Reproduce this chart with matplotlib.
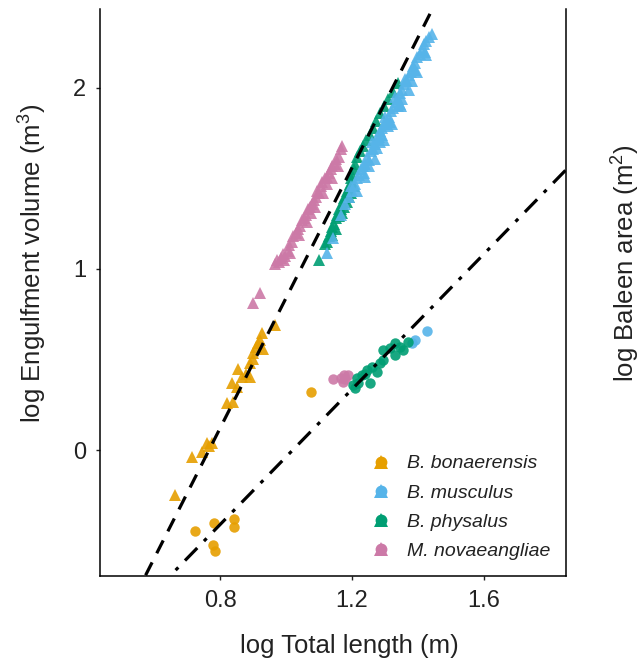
import numpy as np
import matplotlib.pyplot as plt
from matplotlib.lines import Line2D
from matplotlib.legend_handler import HandlerTuple

plt.rcParams["font.family"] = ["Liberation Sans", "DejaVu Sans"]
plt.rcParams["mathtext.fontset"] = "custom"
plt.rcParams["mathtext.rm"] = "Liberation Sans"

species = ["B. bonaerensis", "B. musculus", "B. physalus", "M. novaeangliae"]
colors = ["#E69F00", "#56B4E9", "#009E73", "#CC79A7"]

# engulfment volume (log m^3) vs log total length
bon_len = [0.664, 0.714, 0.745, 0.760, 0.775, 0.768, 0.820, 0.840, 0.835, 0.855,
           0.850, 0.866, 0.880, 0.891, 0.891, 0.901, 0.910, 0.921, 0.926, 0.930,
           0.900, 0.915, 0.967]
bon_vol = [-0.249, -0.037, -0.009, 0.039, 0.040, 0.020, 0.260, 0.267, 0.370, 0.450,
           0.350, 0.405, 0.420, 0.405, 0.480, 0.535, 0.570, 0.610, 0.646, 0.560,
           0.500, 0.590, 0.690]

mus_len = [1.123, 1.143, 1.165, 1.180, 1.190, 1.200, 1.196, 1.210, 1.215, 1.222,
           1.228, 1.232, 1.240, 1.245, 1.250, 1.256, 1.262, 1.268, 1.272, 1.280,
           1.285, 1.292, 1.298, 1.305, 1.312, 1.318, 1.325, 1.332, 1.338, 1.345,
           1.352, 1.358, 1.365, 1.372, 1.378, 1.385, 1.392, 1.398, 1.405, 1.412,
           1.418, 1.425, 1.432, 1.441, 1.235, 1.275, 1.310, 1.350, 1.390, 1.420,
           1.300, 1.260, 1.360, 1.330, 1.250, 1.290, 1.340, 1.380, 1.215, 1.240,
           1.268, 1.296, 1.322, 1.348, 1.372, 1.398, 1.425, 1.285, 1.315, 1.345]
mus_vol = [1.09, 1.17, 1.30, 1.36, 1.40, 1.43, 1.46, 1.47, 1.50, 1.52,
           1.55, 1.57, 1.58, 1.62, 1.60, 1.65, 1.66, 1.69, 1.72, 1.73,
           1.76, 1.78, 1.80, 1.82, 1.84, 1.87, 1.89, 1.92, 1.94, 1.97,
           1.99, 2.02, 2.04, 2.07, 2.09, 2.12, 2.14, 2.17, 2.19, 2.21,
           2.24, 2.26, 2.28, 2.30, 1.53, 1.67, 1.79, 1.94, 2.10, 2.20,
           1.84, 1.70, 2.05, 1.95, 1.57, 1.74, 1.90, 2.04, 1.43, 1.51,
           1.61, 1.71, 1.80, 1.90, 1.99, 2.09, 2.18, 1.70, 1.81, 1.91]

phy_len = [1.100, 1.118, 1.125, 1.130, 1.135, 1.140, 1.145, 1.150, 1.155, 1.160,
           1.165, 1.170, 1.175, 1.180, 1.185, 1.190, 1.195, 1.198, 1.200, 1.205,
           1.210, 1.216, 1.224, 1.233, 1.243, 1.253, 1.263, 1.273, 1.286, 1.298,
           1.310, 1.323, 1.338, 1.160, 1.175, 1.190, 1.150, 1.205, 1.170, 1.185,
           1.198, 1.140]
phy_vol = [1.05, 1.14, 1.15, 1.18, 1.21, 1.23, 1.25, 1.28, 1.30, 1.33,
           1.33, 1.36, 1.39, 1.40, 1.43, 1.45, 1.47, 1.50, 1.52, 1.55,
           1.58, 1.62, 1.65, 1.68, 1.71, 1.74, 1.78, 1.82, 1.86, 1.90,
           1.94, 1.98, 2.03, 1.29, 1.34, 1.40, 1.22, 1.46, 1.31, 1.37,
           1.42, 1.19]

nov_len = [0.900, 0.921, 0.965, 0.972, 0.980, 0.985, 0.990, 0.998, 1.005, 1.010,
           1.018, 1.022, 1.030, 1.035, 1.042, 1.048, 1.055, 1.060, 1.066, 1.072,
           1.078, 1.085, 1.090, 1.095, 1.100, 1.105, 1.110, 1.118, 1.124, 1.130,
           1.136, 1.140, 1.148, 1.152, 1.160, 1.165, 1.170, 1.012, 1.040, 1.062,
           1.088, 1.112, 1.138, 1.158, 0.995, 1.075, 1.125]
nov_vol = [0.81, 0.87, 1.03, 1.05, 1.04, 1.06, 1.08, 1.07, 1.10, 1.13,
           1.15, 1.18, 1.20, 1.22, 1.24, 1.27, 1.28, 1.30, 1.33, 1.34,
           1.36, 1.38, 1.40, 1.43, 1.42, 1.46, 1.48, 1.50, 1.51, 1.53,
           1.55, 1.57, 1.58, 1.61, 1.62, 1.66, 1.68, 1.09, 1.19, 1.26,
           1.34, 1.42, 1.50, 1.57, 1.05, 1.31, 1.47]

# baleen area (log m^2) vs log total length
bon_len_b = [0.724, 0.782, 0.778, 0.785, 0.842, 0.842, 1.076]
bon_area = [-0.448, -0.404, -0.525, -0.556, -0.380, -0.424, 0.319]

mus_len_b = [1.391, 1.426, 1.380]
mus_area = [0.608, 0.660, 0.590]

phy_len_b = [1.204, 1.218, 1.229, 1.244, 1.260, 1.275, 1.254, 1.295, 1.295, 1.315,
             1.330, 1.330, 1.355, 1.370, 1.215, 1.238, 1.285, 1.345, 1.210]
phy_area = [0.359, 0.370, 0.414, 0.442, 0.460, 0.433, 0.370, 0.497, 0.552, 0.562,
            0.525, 0.590, 0.552, 0.598, 0.395, 0.420, 0.480, 0.570, 0.340]

nov_len_b = [1.143, 1.174, 1.188, 1.173, 1.180, 1.165]
nov_area = [0.392, 0.414, 0.414, 0.377, 0.390, 0.400]

# fitted scaling lines: intercept, slope
vol_fit = (-2.76, 3.60)
area_fit = (-1.908, 1.87)

xlim = (0.4364, 1.848)
ylim = (-0.696, 2.436)

ink = "#222222"

fig = plt.figure(figsize=(6.44, 6.62), dpi=100)
ax = fig.add_axes([0.1553, 0.1299, 0.7236, 0.8565])

tri = dict(marker="^", ms=8.5, ls="none", alpha=0.9, mew=0)
dot = dict(marker="o", ms=7.5, ls="none", alpha=0.9, mew=0)

ax.plot(bon_len, bon_vol, color=colors[0], **tri)
ax.plot(phy_len, phy_vol, color=colors[2], **tri)
ax.plot(mus_len, mus_vol, color=colors[1], **tri)
ax.plot(nov_len, nov_vol, color=colors[3], **tri)

ax.plot(bon_len_b, bon_area, color=colors[0], **dot)
ax.plot(nov_len_b, nov_area, color=colors[3], **dot)
ax.plot(mus_len_b, mus_area, color=colors[1], **dot)
ax.plot(phy_len_b, phy_area, color=colors[2], **dot)

xs = np.array(xlim)
ax.plot(xs, vol_fit[0] + vol_fit[1] * xs, color="black", lw=2.3,
        ls=(0, (4.5, 3.2)))
ax.plot(xs, area_fit[0] + area_fit[1] * xs, color="black", lw=2.3,
        ls=(0, (5.5, 3.0, 1.2, 3.0)))

ax.set_xlim(xlim)
ax.set_ylim(ylim)
ax.set_xticks([0.8, 1.2, 1.6])
ax.set_xticklabels(["0.8", "1.2", "1.6"])
ax.set_yticks([0, 1, 2])

ax.spines["top"].set_visible(False)
for s in ["left", "bottom", "right"]:
    ax.spines[s].set_linewidth(1.1)
ax.tick_params(length=3, width=1, labelsize=17, colors=ink, pad=5)
ax.tick_params(axis="x", pad=7)
ax.tick_params(axis="y", right=True, labelright=True, pad=7)

ax.set_xlabel("log Total length (m)", fontsize=18.5, color=ink, labelpad=16)
ax.xaxis.label.set_x(0.536)
ax.set_ylabel("log Engulfment volume (m$^3$)", fontsize=18.5, color=ink,
              labelpad=18)
ax.yaxis.label.set_y(0.552)

ax2 = ax.twinx()
ax2.set_ylim(ylim)
ax2.set_yticks([])
for s in ax2.spines.values():
    s.set_visible(False)
ax2.set_ylabel("log Baleen area (m$^2$)", fontsize=18.5, color=ink,
               labelpad=30)
ax2.yaxis.label.set_y(0.552)

handles = []
for c in colors:
    h1 = Line2D([], [], color=c, marker="o", ms=8.5, ls="none", mew=0)
    h2 = Line2D([], [], color=c, marker="^", ms=9.5, ls="none", mew=0)
    handles.append((h1, h2))
leg = ax.legend(handles, species, handler_map={tuple: HandlerTuple(ndivide=1)},
                loc="lower right", bbox_to_anchor=(1.005, -0.003), frameon=False,
                prop=dict(style="italic", size=14), labelspacing=0.6,
                handlelength=1.0, handletextpad=0.85, borderaxespad=0.5)
for t in leg.get_texts():
    t.set_color(ink)

fig.savefig("out.png", dpi=100)
